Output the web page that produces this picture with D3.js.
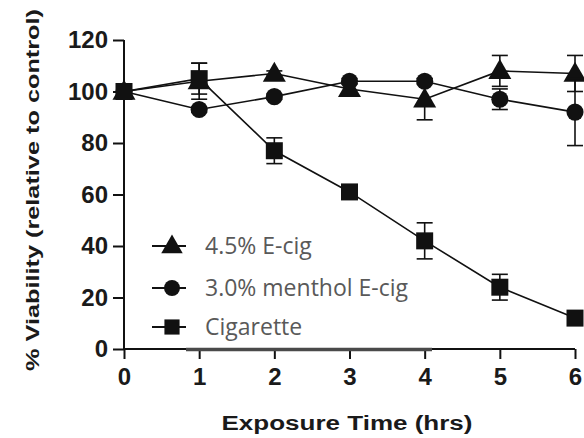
<!DOCTYPE html>
<html><head><meta charset="utf-8">
<script src="https://cdn.jsdelivr.net/npm/d3@7"></script>
<style>body{margin:0;background:#fff}svg{display:block}</style>
</head><body>
<svg id="c" width="584" height="438"></svg>
<script>
const times = [0,1,2,3,4,5,6];
const yTicks = [0,20,40,60,80,100,120];
const ecig45 = [100,104,107,101,97,108,107];
const ecig45Err = [2,7,1,2,8,6,7];
const menthol = [100,93,98,104,104,97,92];
const mentholErr = [1,1,1,1,1,4,13];
const cig = [100,105,77,61,42,24,12];
const cigErr = [2,6,5,2,7,5,2];
const seriesNames = ["4.5% E-cig","3.0% menthol E-cig","Cigarette"];
const seriesShapes = ["triangle","circle","square"];
const xTitle = "Exposure Time (hrs)";
const yTitle = "% Viability (relative to control)";

const svg = d3.select("#c");
const x = d3.scaleLinear().domain([0,6]).range([124,575]);
const y = d3.scaleLinear().domain([0,120]).range([349,40]);
const ink = "#111";
const font = "'Liberation Sans', Arial, sans-serif";

function sym(shape, size){
  const t = {triangle:d3.symbolTriangle, circle:d3.symbolCircle, square:d3.symbolSquare}[shape];
  return d3.symbol().type(t).size(size)();
}

// axes
const yAxis = svg.append("g").attr("transform","translate(124,0)")
  .call(d3.axisLeft(y).tickValues(yTicks).tickFormat(d3.format("d")).tickSize(11).tickPadding(5));
const xAxis = svg.append("g").attr("transform","translate(0,349)")
  .call(d3.axisBottom(x).tickValues(times).tickFormat(d3.format("d")).tickSize(10).tickPadding(9));
[yAxis,xAxis].forEach(g=>{
  g.selectAll("path,line").attr("stroke",ink).attr("stroke-width",2);
  g.select(".domain").attr("d", g===yAxis ? `M0,${y(0)}V${y(120)}` : `M${x(0)},0H${x(6)}`);
  g.selectAll("text").attr("font-family",font).attr("font-weight","bold")
    .attr("font-size",24).attr("fill","#1a1a1a");
});

// titles
svg.append("text").attr("x",347).attr("y",430).attr("text-anchor","middle")
  .attr("font-family",font).attr("font-weight","bold").attr("font-size",20)
  .attr("textLength",251).attr("lengthAdjust","spacingAndGlyphs")
  .attr("fill","#1a1a1a").text(xTitle);
svg.append("text").attr("transform","translate(39,190) rotate(-90)")
  .attr("text-anchor","middle")
  .attr("font-family",font).attr("font-weight","bold").attr("font-size",19)
  .attr("textLength",362).attr("lengthAdjust","spacingAndGlyphs")
  .attr("fill","#1a1a1a").text(yTitle);

const series = [
  {v:ecig45, e:ecig45Err, shape:"triangle", size:230},
  {v:menthol, e:mentholErr, shape:"circle", size:230},
  {v:cig, e:cigErr, shape:"square", size:289}
];
const line = d3.line().x((d,i)=>x(times[i])).y(d=>y(d));
series.forEach(s=>{
  svg.append("path").attr("d",line(s.v)).attr("fill","none")
    .attr("stroke",ink).attr("stroke-width",1.6);
});
series.forEach(s=>{
  const g = svg.append("g");
  s.v.forEach((v,i)=>{
    const cx = x(times[i]);
    const e = s.e[i];
    if (e>0){
      g.append("line").attr("x1",cx).attr("x2",cx).attr("y1",y(v+e)).attr("y2",y(v-e))
        .attr("stroke",ink).attr("stroke-width",1.6);
      [v+e,v-e].forEach(w=>g.append("line").attr("x1",cx-8).attr("x2",cx+8)
        .attr("y1",y(w)).attr("y2",y(w)).attr("stroke",ink).attr("stroke-width",1.6));
    }
    g.append("path").attr("d",sym(s.shape,s.size))
      .attr("transform",`translate(${cx},${y(v)+(s.shape==="triangle"?1.5:0)})`).attr("fill",ink);
  });
});

// legend overlay box
svg.append("rect").attr("x",186).attr("y",302).attr("width",246).attr("height",46).attr("fill","#fff");
svg.append("line").attr("x1",186).attr("x2",432).attr("y1",349.5).attr("y2",349.5)
  .attr("stroke","#4a4a4a").attr("stroke-width",3.5);

const legY = [246,288,327];
seriesNames.forEach((n,i)=>{
  const g = svg.append("g").attr("transform",`translate(0,${legY[i]})`);
  g.append("line").attr("x1",152).attr("x2",186).attr("y1",0).attr("y2",0)
    .attr("stroke",ink).attr("stroke-width",1.8);
  g.append("path").attr("d",sym(seriesShapes[i], seriesShapes[i]==="square"?230:200))
    .attr("transform",`translate(172,${seriesShapes[i]==="triangle"?1:0})`).attr("fill",ink);
  g.append("text").attr("x",205).attr("y",8).attr("font-family","'Open Sans', sans-serif")
    .attr("font-size",23).attr("fill","#595959").text(n);
});
</script>
</body></html>
